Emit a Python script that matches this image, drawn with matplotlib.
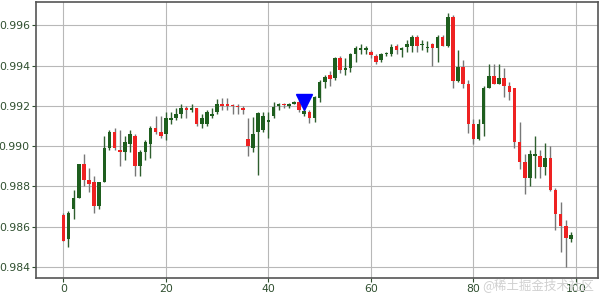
import matplotlib
matplotlib.use('Agg')
import matplotlib.pyplot as plt
import numpy as np

# candle data, index 0..99
opens = [0.9866, 0.9854, 0.9869, 0.9874, 0.9891, 0.9883, 0.9882, 0.9870, 0.9882, 0.9899,
         0.9907, 0.9898, 0.9897, 0.9901, 0.9905, 0.9890, 0.9897, 0.9901, 0.9909, 0.9907,
         0.9906, 0.9913, 0.9914, 0.9916, 0.9919, 0.9918, 0.9919, 0.9911, 0.9911, 0.9915,
         0.9917, 0.9921, 0.9921, 0.99205, 0.9920, 0.9919, 0.99035, 0.9899, 0.9907, 0.9908,
         0.9912, 0.9915, 0.9920, 0.9921, 0.9920, 0.9921, 0.9922, 0.9916, 0.9917, 0.9914,
         0.9924, 0.9932, 0.99353, 0.9934, 0.99437, 0.99378, 0.9939, 0.9946, 0.9948, 0.9948,
         0.99467, 0.9945, 0.9943, 0.9946, 0.9946, 0.9950, 0.9948, 0.99494, 0.9950, 0.99543,
         0.99505, 0.9949, 0.99507, 0.99486, 0.99543, 0.9950, 0.99643, 0.99324, 0.99391, 0.9931,
         0.99112, 0.99033, 0.99112, 0.9929, 0.99348, 0.99311, 0.99338, 0.99298, 0.99287, 0.9902,
         0.9892, 0.98844, 0.9895, 0.9895, 0.98897, 0.98943, 0.98781, 0.98661, 0.98601, 0.9854]
highs = [0.9867, 0.9868, 0.9878, 0.9891, 0.9896, 0.9889, 0.9885, 0.9882, 0.9905, 0.9908,
         0.9909, 0.9908, 0.9905, 0.9908, 0.9906, 0.9898, 0.9903, 0.9910, 0.9915, 0.9915,
         0.9917, 0.9917, 0.9919, 0.9921, 0.9920, 0.9921, 0.9919, 0.9916, 0.9918, 0.9919,
         0.99235, 0.9924, 0.9924, 0.9921, 0.9921, 0.9920, 0.9914, 0.99145, 0.9917, 0.9917,
         0.9917, 0.9922, 0.99215, 0.99215, 0.99215, 0.99225, 0.9923, 0.9921, 0.9918, 0.9925,
         0.9933, 0.99353, 0.99375, 0.99445, 0.9945, 0.99437, 0.99465, 0.9950, 0.9951, 0.9950,
         0.9948, 0.9946, 0.99465, 0.9947, 0.9951, 0.9951, 0.99495, 0.99527, 0.9955, 0.9955,
         0.99527, 0.9952, 0.99515, 0.9955, 0.9955, 0.9966, 0.9965, 0.99477, 0.99427, 0.99328,
         0.99137, 0.99137, 0.9930, 0.9941, 0.9941, 0.9941, 0.99386, 0.9932, 0.99287, 0.9912,
         0.98963, 0.9898, 0.9905, 0.9898, 0.99016, 0.9900, 0.9879, 0.98723, 0.98631, 0.98573]
lows = [0.9853, 0.9850, 0.9864, 0.9874, 0.9880, 0.9877, 0.9867, 0.9869, 0.9882, 0.9898,
        0.9898, 0.9890, 0.9893, 0.9897, 0.9885, 0.9885, 0.9893, 0.9894, 0.9906, 0.9904,
        0.9903, 0.9911, 0.9913, 0.9914, 0.9914, 0.9917, 0.9910, 0.9909, 0.9910, 0.9914,
        0.9916, 0.9918, 0.9918, 0.9916, 0.9916, 0.9916, 0.9895, 0.9897, 0.98855, 0.9907,
        0.9904, 0.9914, 0.9918, 0.9919, 0.9919, 0.9921, 0.9917, 0.9915, 0.99115, 0.9912,
        0.9922, 0.9929, 0.9930, 0.9933, 0.99365, 0.99353, 0.9937, 0.9942, 0.9946, 0.9946,
        0.9944, 0.9941, 0.9942, 0.9945, 0.9945, 0.9946, 0.99445, 0.9947, 0.9947, 0.9947,
        0.99477, 0.9947, 0.9940, 0.9942, 0.99497, 0.99494, 0.9929, 0.9932, 0.9929, 0.99063,
        0.99013, 0.9903, 0.9905, 0.99287, 0.9931, 0.9931, 0.99242, 0.99228, 0.9899, 0.98886,
        0.98764, 0.9880, 0.9884, 0.98844, 0.98855, 0.98776, 0.98582, 0.98474, 0.9840, 0.98523]
closes = [0.9853, 0.9867, 0.9874, 0.9891, 0.9883, 0.9881, 0.9870, 0.9882, 0.9899, 0.9907,
          0.9899, 0.9897, 0.9902, 0.9906, 0.9890, 0.9897, 0.9902, 0.9909, 0.9907, 0.9905,
          0.9914, 0.9914, 0.9916, 0.9919, 0.9918, 0.9919, 0.9911, 0.9914, 0.9917, 0.9916,
          0.9921, 0.9920, 0.9920, 0.9920, 0.99195, 0.9918, 0.9900, 0.9906, 0.99165, 0.9915,
          0.9913, 0.99195, 0.9921, 0.99205, 0.9921, 0.9922, 0.9918, 0.99175, 0.9914, 0.99245,
          0.9932, 0.99345, 0.99332, 0.99437, 0.99378, 0.9939, 0.9946, 0.99487, 0.9949, 0.9949,
          0.99452, 0.99417, 0.9946, 0.99465, 0.99494, 0.99477, 0.9949, 0.99507, 0.99543, 0.9950,
          0.9951, 0.99495, 0.9949, 0.99543, 0.9950, 0.99643, 0.99324, 0.99394, 0.99311, 0.99112,
          0.99033, 0.99112, 0.9929, 0.99348, 0.99311, 0.99341, 0.99298, 0.9927, 0.9902, 0.9892,
          0.98844, 0.98963, 0.9896, 0.98897, 0.98943, 0.98781, 0.98665, 0.98601, 0.98545, 0.98556]

signal_x = [47]
signal_y = [0.9922]

x = np.arange(len(opens))
o = np.array(opens)
c = np.array(closes)
up = c >= o

fig = plt.figure(figsize=(6, 2.94), dpi=100)
ax = fig.add_axes([0.06, 0.054, 0.937, 0.939])

body_col = np.where(up, '#1e5e1e', '#ee2222')
wick_col = np.where(up, '#2f5f2f', '#777777')

ax.vlines(x, lows, highs, colors=wick_col, linewidth=1.0, zorder=2)
ax.bar(x, np.abs(c - o), bottom=np.minimum(o, c), width=0.7,
       color=body_col, linewidth=0, zorder=3)
ax.plot(signal_x, signal_y, 'v', color='blue', markersize=11, zorder=4)

ax.set_ylim(0.98344, 0.99716)
ax.set_xticks([0, 20, 40, 60, 80, 100])
ax.set_yticks([0.984, 0.986, 0.988, 0.990, 0.992, 0.994, 0.996])
ax.set_yticklabels(['0.984', '0.986', '0.988', '0.990', '0.992', '0.994', '0.996'])
ax.grid(True, color='#b8b8b8', linewidth=0.8)
ax.set_axisbelow(True)
ax.tick_params(labelsize=7.8, colors='#2f4f2f', length=3, pad=1.5)
for s in ax.spines.values():
    s.set_color('#555555')
    s.set_linewidth(1.2)

fig.text(0.99, 0.008, '@稀土掘金技术社区', ha='right', va='bottom', fontsize=9,
         color='#d0d0d0', family=['Noto Sans CJK SC', 'DejaVu Sans'])

fig.savefig('out.png')
